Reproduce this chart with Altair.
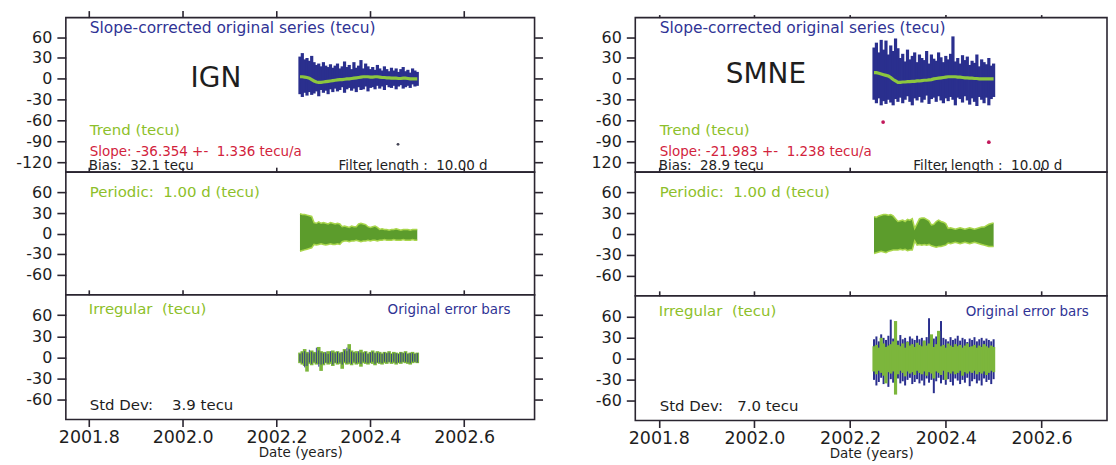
import altair as alt
import pandas as pd

# ---------------- data ----------------
T0, DT, N = 2002.25, 0.005, 51
t = [round(T0 + DT * i, 3) for i in range(N)]

# IGN - slope-corrected original series (envelope per sample) and trend
ign_orig_hi = [32, 37, 28, 30, 26, 33, 24, 20, 22, 18, 24, 19, 17, 21, 16, 19, 22, 15, 18, 25, 17, 20, 14,
               24, 16, 19, 27, 15, 22, 18, 14, 17, 13, 20, 15, 12, 18, 14, 11, 16, 12, 15, 10, 14, 17, 11,
               13, 9, 15, 12, 10]
ign_orig_lo = [-22, -26, -20, -24, -19, -23, -21, -18, -25, -16, -20, -17, -22, -15, -19, -14, -18, -16, -12,
               -20, -15, -13, -17, -14, -19, -12, -16, -15, -11, -18, -13, -12, -15, -10, -14, -11, -16, -9,
               -12, -13, -10, -15, -11, -9, -14, -12, -10, -13, -8, -11, -10]
ign_trend = [3, 3, 2.5, 2, 1, -1, -3, -4.5, -5, -5, -4.5, -4, -3.5, -3, -2.5, -2, -1.5, -1, -1, -0.5,
             0, 0, 0.5, 1, 1.5, 2, 2.5, 3, 3, 3, 2.5, 2.5, 3, 3, 2.5, 2, 2, 1.5, 1.5, 1,
             1, 1, 0.5, 0.5, 1, 1, 0.5, 0, 0, 0, 0]
ign_out_t = [2002.459]
ign_out_v = [-94]
# IGN - periodic (1.00 d) envelope
ign_per_hi = [29, 28, 28, 27, 26, 25, 16, 15, 17, 15, 16, 15, 14, 16, 15, 14, 15, 14, 10, 11, 10, 9, 11, 10,
              10, 14, 15, 14, 13, 10, 9, 10, 11, 9, 6, 7, 6, 6, 5, 6, 6, 7, 6, 5, 6, 6, 6, 5, 6, 6, 6]
ign_per_lo = [-26, -25, -24, -23, -22, -21, -16, -17, -16, -15, -16, -17, -16, -15, -16, -16, -15, -16,
              -12, -11, -11, -12, -11, -11, -10, -11, -12, -11, -11, -10, -11, -10, -10, -11, -10, -10,
              -9, -10, -10, -10, -9, -10, -10, -10, -9, -10, -10, -10, -9, -10, -10]
# IGN - irregular (green) and original error bars (blue)
ign_irr_hi = [7, 9, 12, 8, 6, 10, 8, 7, 15, 9, 8, 6, 9, 7, 10, 8, 9, 7, 8, 12, 9, 19, 10, 8, 9, 7, 11, 8,
              9, 6, 8, 10, 7, 9, 8, 6, 8, 7, 9, 6, 8, 7, 6, 8, 7, 9, 6, 7, 8, 6, 7]
ign_irr_lo = [-8, -10, -12, -20, -9, -11, -8, -10, -9, -19, -11, -8, -10, -9, -12, -8, -10, -9, -16, -8,
              -10, -9, -11, -8, -10, -9, -13, -8, -9, -10, -8, -9, -11, -8, -9, -10, -8, -9, -7, -9,
              -8, -10, -8, -9, -7, -8, -9, -10, -8, -7, -8]
ign_err_hi = [5, 7, 9, 6, 11, 8, 6, 14, 10, 7, 6, 8, 5, 9, 7, 6, 8, 6, 7, 10, 14, 12, 8, 7, 6, 9, 7, 6,
              8, 5, 7, 8, 6, 7, 6, 5, 7, 6, 7, 5, 6, 6, 5, 7, 6, 7, 5, 6, 6, 5, 6]
ign_err_lo = [-6, -8, -14, -12, -7, -9, -6, -8, -13, -10, -9, -7, -8, -6, -10, -7, -8, -7, -10, -6,
              -8, -7, -9, -6, -8, -7, -9, -6, -7, -8, -7, -6, -9, -7, -7, -8, -6, -7, -6, -7,
              -6, -8, -7, -7, -6, -6, -7, -8, -6, -6, -7]

# SMNE - slope-corrected original series and trend
smne_orig_hi = [45, 52, 38, 56, 42, 55, 35, 48, 40, 58, 44, 30, 36, 25, 42, 28, 33, 38, 24, 35, 30,
                27, 40, 22, 35, 29, 26, 38, 31, 24, 33, 28, 36, 61, 25, 30, 22, 34, 27, 32, 20,
                26, 23, 35, 18, 28, 24, 21, 30, 19, 22]
smne_orig_lo = [-30, -35, -28, -38, -32, -36, -30, -34, -38, -29, -33, -27, -35, -30, -25, -33, -38, -28,
                -31, -26, -34, -30, -24, -36, -29, -27, -33, -25, -31, -35, -28, -32, -26, -30, -38,
                -27, -29, -34, -25, -31, -37, -28, -33, -39, -26, -30, -35, -27, -38, -29, -26]
smne_trend = [9, 9, 8, 7, 6, 5, 4, 2, -1, -3, -5, -5, -4.5, -4.5, -4, -4, -3.5, -3.5, -3, -3,
              -2.5, -2, -2, -1.5, -1, 0, 0.5, 1, 1.5, 2, 2.5, 3, 3, 3, 3, 2.5, 2.5, 2, 1.5, 1.5,
              1, 1, 0.5, 0.5, 0, 0, 0, 0, 0, 0, 0]
smne_out_t = [2002.269, 2002.490]
smne_out_v = [-62, -91]
# SMNE - periodic
smne_per_hi = [25, 24, 26, 27, 28, 28, 27, 28, 26, 22, 18, 19, 20, 18, 21, 20, 22, 8, 15, 22, 23, 23, 21,
               19, 13, 14, 18, 20, 18, 17, 15, 8, 9, 8, 7, 8, 9, 8, 7, 8, 9, 8, 7, 8, 9, 10, 10, 12,
               14, 15, 16]
smne_per_lo = [-28, -27, -26, -25, -26, -27, -25, -24, -23, -23, -23, -22, -23, -22, -24, -23, -23, -10,
               -16, -15, -16, -15, -16, -15, -17, -18, -19, -18, -18, -17, -16, -13, -14, -13, -12, -13,
               -14, -13, -12, -13, -14, -13, -12, -13, -14, -15, -16, -17, -18, -18, -18]
# SMNE - irregular and original error bars
smne_irr_hi = [18, 20, 16, 30, 22, 17, 19, 21, 25, 54, 20, 18, 22, 16, 24, 19, 21, 17, 23, 20, 18, 26,
               19, 22, 35, 17, 21, 40, 18, 20, 16, 22, 19, 17, 21, 18, 20, 16, 19, 22, 17, 18, 20, 16,
               19, 17, 21, 18, 16, 19, 17]
smne_irr_lo = [-18, -22, -17, -20, -24, -35, -19, -21, -18, -51, -22, -17, -20, -25, -18, -21, -19, -23,
               -17, -20, -22, -18, -24, -19, -21, -28, -18, -20, -23, -17, -30, -19, -21, -18, -22, -20,
               -17, -24, -19, -21, -18, -20, -17, -22, -19, -21, -18, -23, -20, -17, -19]
smne_err_hi = [28, 32, 25, 35, 30, 27, 33, 56, 29, 31, 26, 34, 28, 30, 25, 32, 29, 27, 33, 28, 30, 26,
               31, 58, 27, 29, 32, 26, 54, 30, 28, 25, 31, 27, 29, 33, 26, 30, 28, 24, 29, 27, 31, 25,
               28, 30, 26, 29, 27, 25, 28]
smne_err_lo = [-30, -38, -33, -27, -36, -31, -40, -29, -34, -37, -28, -35, -32, -38, -30, -27, -36, -33,
               -29, -35, -31, -38, -28, -34, -30, -49, -32, -27, -35, -30, -37, -29, -33, -38, -28, -31,
               -36, -30, -34, -27, -39, -32, -29, -35, -31, -38, -28, -33, -30, -36, -29]

X_TICKS = [2001.8, 2002.0, 2002.2, 2002.4, 2002.6]
Y_TICKS_TOP = [60, 30, 0, -30, -60, -90, -120]
Y_TICKS = [60, 30, 0, -30, -60]

# ---------------- styling ----------------
FONT = "DejaVu Sans"
INK = "#1e1e1e"
FRAME = "#2a2530"
NAVY = "#2a2f8e"
TXT_BLUE = "#2f3395"
GREEN = "#8cc63f"
TXT_GREEN = "#8dbf2a"
RED = "#d2233c"
PER_FILL = "#5c9c2c"
PER_EDGE = "#a9d64c"
IRR_GREEN = "#7cb63c"
MAGENTA = "#c2185b"
NB = "\u00a0"
VIEW = alt.ViewBackground(stroke=FRAME, strokeWidth=1.6, fill="white")


def xaxis(orient, tick, labels=False):
    kw = dict(values=X_TICKS, orient=orient, tickSize=tick, labels=labels, domain=False, grid=False,
              tickColor=FRAME, tickWidth=1.6, minExtent=0, maxExtent=400, title=None)
    if labels:
        kw.update(format=".1f", labelFont=FONT, labelFontSize=17.5, labelColor=INK, labelPadding=2,
                  labelOverlap=False, labelFlush=False, title="Date (years)", titleFont=FONT,
                  titleFontSize=13.5, titleFontWeight="normal", titleColor=INK, titlePadding=0)
    return alt.Axis(**kw)


def yaxis(orient, ticks, expr=None):
    kw = dict(values=ticks, orient=orient, domain=False, grid=False, tickColor=FRAME, tickWidth=1.6,
              minExtent=0, maxExtent=400, title=None)
    if orient == "left":
        kw.update(tickSize=9, labelPadding=5, labelFont=FONT, labelFontSize=16, labelColor=INK,
                  labelOverlap=False, labelExpr=expr or "'' + datum.value")
    else:
        kw.update(tickSize=8, labels=False)
    return alt.Axis(**kw)


def X(field, dom, axis=None):
    return alt.X(field, type="quantitative", scale=alt.Scale(domain=dom, nice=False, zero=False), axis=axis)


def Y(field, dom, axis=None):
    return alt.Y(field, type="quantitative", scale=alt.Scale(domain=dom, nice=False, zero=False), axis=axis)


def text_layer(rows, xdom, ydom, align):
    df = pd.DataFrame(rows, columns=["x", "y", "txt", "col", "fs"])
    return alt.Chart(df).mark_text(font=FONT, align=align, baseline="middle").encode(
        x=X("x", xdom), y=Y("y", ydom), text="txt:N",
        color=alt.Color("col:N", scale=None), size=alt.Size("fs:Q", scale=None))


def carriers(xdom, ydom, yticks, top_tick, bot_tick, bot_labels, right_axis, yexpr=None):
    df = pd.DataFrame({"t": [X_TICKS[0], X_TICKS[-1]], "v": [yticks[0], yticks[-1]]})
    a = alt.Chart(df).mark_point(opacity=0).encode(
        x=X("t", xdom, xaxis("bottom", bot_tick, bot_labels)),
        y=Y("v", ydom, yaxis("left", yticks, yexpr)))
    b = alt.Chart(df).mark_point(opacity=0).encode(
        x=X("t", xdom, xaxis("top", top_tick)),
        y=Y("v", ydom, yaxis("right", yticks) if right_axis else None))
    return [a, b]


def column(name, o_hi, o_lo, trend, out_t, out_v, out_col, out_size, p_hi, p_lo, i_hi, i_lo, e_hi, e_lo,
           slope, bias, sd, xdom, width, hs, ydoms, top_tick, right_axis, yexpr_top, blue_first):
    d_top, d_mid, d_bot = ydoms
    orig = pd.DataFrame({"t": t, "hi": o_hi, "lo": o_lo, "trend": trend})
    outs = pd.DataFrame({"t": out_t, "v": out_v})
    top_layers = [
        alt.Chart(orig).mark_rule(color=NAVY, strokeWidth=3.2).encode(
            x=X("t", xdom), y=Y("lo", d_top), y2="hi"),
        alt.Chart(orig).mark_line(color=GREEN, strokeWidth=3.2).encode(
            x=X("t", xdom), y=Y("trend", d_top)),
        alt.Chart(outs).mark_point(filled=True, color=out_col, size=out_size, opacity=1).encode(
            x=X("t", xdom), y=Y("v", d_top)),
        text_layer([
            (2001.802, 73, "Slope-corrected original series (tecu)", TXT_BLUE, 15.5),
            (2001.802, -74, "Trend (tecu)", TXT_GREEN, 15),
            (2001.802, -105, slope, RED, 13.5),
            (2001.800, -125, bias, INK, 13.5),
            (2002.332, -125, f"Filter length :{NB}{NB}10.00 d", INK, 13.5),
        ], xdom, d_top, "left"),
        text_layer([name], xdom, d_top, "center"),
    ] + carriers(xdom, d_top, Y_TICKS_TOP, top_tick, 5, False, right_axis, yexpr_top)
    top = alt.layer(*top_layers).resolve_axis(x="independent", y="independent").properties(
        width=width, height=hs[0], view=VIEW)

    per = pd.DataFrame({"t": t, "hi": p_hi, "lo": p_lo})
    mid_layers = [
        alt.Chart(per).mark_area(color=PER_FILL, opacity=1).encode(
            x=X("t", xdom), y=Y("lo", d_mid), y2="hi"),
        alt.Chart(per).mark_line(color=PER_EDGE, strokeWidth=1.5).encode(
            x=X("t", xdom), y=Y("hi", d_mid)),
        alt.Chart(per).mark_line(color=PER_EDGE, strokeWidth=1.5).encode(
            x=X("t", xdom), y=Y("lo", d_mid)),
        text_layer([(2001.802, 61, f"Periodic:{NB}{NB}1.00 d (tecu)", TXT_GREEN, 15)], xdom, d_mid, "left"),
    ] + carriers(xdom, d_mid, Y_TICKS, 5, 5, False, right_axis)
    mid = alt.layer(*mid_layers).resolve_axis(x="independent", y="independent").properties(
        width=width, height=hs[1], view=VIEW)

    irr = pd.DataFrame({"t": t, "ghi": i_hi, "glo": i_lo, "bhi": e_hi, "blo": e_lo})
    blue = alt.Chart(irr).mark_rule(color=NAVY, strokeWidth=2.0 if blue_first else 0.9).encode(
        x=X("t", xdom), y=Y("blo", d_bot), y2="bhi")
    green = alt.Chart(irr).mark_rule(color=IRR_GREEN, strokeWidth=3.2 if blue_first else 3.6).encode(
        x=X("t", xdom), y=Y("glo", d_bot), y2="ghi")
    data_layers = [blue, green] if blue_first else [green, blue]
    bot_layers = data_layers + [
        text_layer([
            (2001.800, 69, f"Irregular{NB}{NB}(tecu)", TXT_GREEN, 15),
            (2001.802, -68, sd, INK, 15),
        ], xdom, d_bot, "left"),
        text_layer([(2002.699, 67, "Original error bars", TXT_BLUE, 13.5)], xdom, d_bot, "right"),
    ] + carriers(xdom, d_bot, Y_TICKS, 5, 7, True, right_axis)
    bot = alt.layer(*bot_layers).resolve_axis(x="independent", y="independent").properties(
        width=width, height=hs[2], view=VIEW)

    return alt.vconcat(top, mid, bot, spacing=0, bounds="flush")


left = column(
    (2002.071, 0, "IGN", INK, 28),
    ign_orig_hi, ign_orig_lo, ign_trend, ign_out_t, ign_out_v, "#444455", 8,
    ign_per_hi, ign_per_lo, ign_irr_hi, ign_irr_lo, ign_err_hi, ign_err_lo,
    f"Slope: -36.354 +-{NB}{NB}1.336 tecu/a", f"Bias:{NB}{NB}32.1 tecu", f"Std Dev:{NB}{NB}{NB}{NB}3.9 tecu",
    [2001.751, 2002.75], 470, (155, 123, 125), ([-134, 88], [-90, 90], [-88, 89]), 7, True, None, False)

right = column(
    (2002.024, 6, "SMNE", INK, 28),
    smne_orig_hi, smne_orig_lo, smne_trend, smne_out_t, smne_out_v, MAGENTA, 14,
    smne_per_hi, smne_per_lo, smne_irr_hi, smne_irr_lo, smne_err_hi, smne_err_lo,
    f"Slope: -21.983 +-{NB}{NB}1.238 tecu/a", f"Bias:{NB}{NB}28.9 tecu", f"Std Dev:{NB}{NB}{NB}7.0 tecu",
    [2001.751, 2002.737], 473, (155, 124, 125), ([-134, 88], [-89, 89], [-88, 90]), 3, False,
    "datum.value == -120 ? '120' : '' + datum.value", True)

chart = alt.hconcat(left, right, spacing=45).properties(
    padding={"left": 6, "top": 0, "right": 0, "bottom": 0}
).configure_view(stroke=FRAME, strokeWidth=1.6).configure(background="white")

chart.save("out.html", embed_options={"renderer": "svg", "actions": False})
